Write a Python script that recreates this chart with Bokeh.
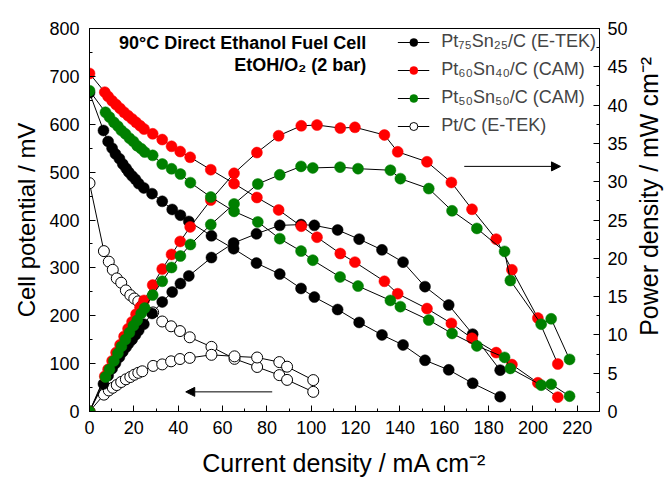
import math
from bokeh.plotting import figure
from bokeh.layouts import row
from bokeh.models import (Range1d, LinearAxis, Legend, LegendItem, Label, Arrow,
                          NormalHead, SingleIntervalTicker)
from bokeh.embed import file_html
from bokeh.resources import INLINE

# ---------------- data ----------------
# Pt75Sn25/C (E-TEK)  -- black
i_b = [0, 6.3, 8.4, 10.2, 11.7, 13.5, 15.0, 16.5, 17.7, 19.2, 20.7, 22.2, 24.5, 28.2, 32.8,
       37.3, 41.0, 44.8, 55.0, 65.0, 75.3, 85.8, 95.4, 101.4, 111.9, 121.6, 131.9, 141.4,
       151.3, 162.0, 172.8, 185.2]
v_b = [666, 587, 564, 550, 538, 528, 517, 508, 500, 492, 485, 476, 467, 455, 439, 422, 410,
       397, 367, 340, 310, 287, 257, 239, 213, 186, 160, 139, 107, 87, 59, 31]
p_b = [0, 3.6, 4.7, 5.6, 6.3, 7.1, 7.8, 8.4, 8.9, 9.4, 10.0, 10.6, 11.4, 12.8, 14.3, 15.6,
       16.7, 17.7, 20.1, 22.0, 23.2, 24.3, 24.4, 24.3, 23.7, 22.5, 21.1, 19.5, 16.3, 13.9,
       10.1, 5.4]

# Pt60Sn40/C (CAM)  -- red
i_r = [0, 6.9, 8.4, 10.2, 12.0, 13.8, 15.6, 17.4, 19.2, 21.0, 22.8, 24.6, 28.5, 32.8, 37.0,
       40.9, 45.4, 54.7, 65.2, 75.5, 85.3, 95.5, 102.6, 113.1, 119.7, 133.0, 139.0, 152.2,
       163.2, 172.5, 183.4, 190.5, 202.2, 211.2]
v_r = [706, 667, 658, 649, 641, 633, 625, 618, 611, 604, 597, 590, 580, 568, 554, 543, 531,
       505, 476, 447, 421, 387, 364, 330, 312, 272, 246, 215, 184, 153, 123, 98, 60, 30]
p_r = [0, 4.6, 5.5, 6.6, 7.7, 8.7, 9.8, 10.8, 11.7, 12.7, 13.6, 14.5, 16.5, 18.6, 20.5, 22.2,
       24.1, 27.6, 31.1, 33.8, 36.0, 37.3, 37.4, 37.0, 37.1, 36.1, 33.9, 32.6, 29.9, 26.4,
       22.5, 18.5, 12.2, 6.2]

# Pt50Sn50/C (CAM)  -- green
i_g = [0, 7.2, 9.0, 11.0, 12.8, 14.4, 16.2, 18.0, 19.8, 21.5, 23.3, 24.9, 28.5, 32.8, 37.0,
       41.0, 45.5, 54.7, 65.2, 75.9, 85.8, 95.4, 100.7, 113.0, 121.1, 135.7, 140.2, 153.0,
       163.5, 174.7, 187.2, 189.8, 203.7, 208.2, 216.5]
v_g = [670, 625, 615, 604, 596, 587, 580, 571, 564, 555, 549, 542, 535, 517, 507, 496, 478,
       448, 418, 396, 361, 335, 316, 281, 262, 232, 219, 191, 163, 137, 113, 90, 55, 57, 32]
p_g = [0, 4.5, 5.5, 6.6, 7.6, 8.5, 9.4, 10.3, 11.2, 11.9, 12.8, 13.5, 15.2, 17.0, 18.8, 20.3,
       21.8, 24.4, 27.1, 29.7, 30.9, 32.0, 31.8, 31.9, 31.7, 31.5, 30.4, 29.1, 26.2, 23.9,
       20.9, 17.1, 11.4, 12.1, 6.8]

# Pt/C (E-TEK)  -- open circles
i_c = [0, 6.5, 8.7, 10.5, 12.3, 14.3, 16.4, 18.4, 20.2, 22.0, 23.8, 28.7, 32.8, 36.8, 40.8,
       45.2, 55.0, 65.4, 75.6, 85.6, 89.1, 100.9]
v_c = [477, 335, 313, 296, 278, 269, 253, 243, 236, 230, 222, 207, 188, 178, 168, 155, 135,
       110, 93, 76, 66, 41]
p_c = [0, 2.2, 2.75, 3.1, 3.45, 3.85, 4.2, 4.5, 4.8, 5.05, 5.25, 5.95, 6.15, 6.55, 6.85,
       7.0, 7.4, 7.2, 7.05, 6.45, 5.85, 4.1]

labels = ["Pt\u2087\u2085Sn\u2082\u2085/C (E-TEK)", "Pt\u2086\u2080Sn\u2084\u2080/C (CAM)",
          "Pt\u2085\u2080Sn\u2085\u2080/C (CAM)", "Pt/C (E-TEK)"]

FONT = "Liberation Sans"

p = figure(frame_width=510, frame_height=383, output_backend="svg", toolbar_location=None,
           x_range=Range1d(0, 230), y_range=Range1d(0, 800),
           min_border_left=89, min_border_top=28, min_border_right=35, min_border_bottom=55)
p.extra_y_ranges = {"pw": Range1d(0, 50)}
p.xgrid.grid_line_color = None
p.ygrid.grid_line_color = None
p.outline_line_color = "black"
p.outline_line_alpha = 1
p.outline_line_width = 1
p.background_fill_color = "white"
p.border_fill_color = "white"

p.xaxis.ticker = SingleIntervalTicker(interval=20, num_minor_ticks=2)
p.yaxis.ticker = SingleIntervalTicker(interval=100, num_minor_ticks=2)
right = LinearAxis(y_range_name="pw", ticker=SingleIntervalTicker(interval=5, num_minor_ticks=2))
p.add_layout(right, "right")

p.xaxis.axis_label = "Current density / mA cm\u207b\u00b2"
p.yaxis[0].axis_label = "Cell potential / mV"

for ax in [p.xaxis[0], p.yaxis[0], right]:
    ax.major_tick_in = 6
    ax.major_tick_out = 0
    ax.minor_tick_in = 3
    ax.minor_tick_out = 0
    ax.axis_line_color = "black"
    ax.major_tick_line_color = "black"
    ax.minor_tick_line_color = "black"
    ax.major_label_text_font = FONT
    ax.major_label_text_font_size = "18px"
    ax.major_label_text_color = "black"
    ax.axis_label_text_font = FONT
    ax.axis_label_text_font_style = "normal"
    ax.axis_label_text_color = "black"
p.xaxis.axis_label_text_font_size = "25px"
p.yaxis[0].axis_label_text_font_size = "24px"
p.xaxis.major_label_standoff = 9
p.yaxis[0].major_label_standoff = 10
right.major_label_standoff = 8
p.xaxis.axis_label_standoff = 12
p.yaxis[0].axis_label_standoff = 6

series = [
    (i_b, v_b, p_b, "black", "black"),
    (i_r, v_r, p_r, "#ff0000", "#ff0000"),
    (i_g, v_g, p_g, "#008000", "#008000"),
]

items = []
# open circles first
lc1 = p.line(i_c, v_c, line_color="black", line_width=1)
sc1 = p.scatter(i_c, v_c, marker="circle", size=11, fill_color="white", line_color="black", line_width=1)
p.line(i_c, p_c, y_range_name="pw", line_color="black", line_width=1)
p.scatter(i_c, p_c, y_range_name="pw", marker="circle", size=11, fill_color="white",
          line_color="black", line_width=1)

for (ii, vv, pp, col, lcol), lab in zip(series, labels[:3]):
    l1 = p.line(ii, vv, line_color="black", line_width=1)
    s1 = p.scatter(ii, vv, marker="circle", size=11, fill_color=col, line_color=lcol, line_width=0.5)
    p.line(ii, pp, y_range_name="pw", line_color="black", line_width=1)
    p.scatter(ii, pp, y_range_name="pw", marker="circle", size=11, fill_color=col,
              line_color=lcol, line_width=0.5)
    items.append(LegendItem(label=lab, renderers=[l1, s1]))
items.append(LegendItem(label=labels[3], renderers=[lc1, sc1]))

legend = Legend(items=items, location="top_right", border_line_color=None,
                background_fill_alpha=0, label_text_font=FONT, label_text_font_size="18px",
                glyph_width=32, glyph_height=20, label_standoff=12, spacing=7,
                padding=2, margin=3, label_height=20)
p.add_layout(legend)

p.add_layout(Label(x=124.8, y=770, text="90\u00b0C Direct Ethanol Fuel Cell", text_align="right",
                   text_baseline="middle", text_font=FONT, text_font_style="bold",
                   text_font_size="18px", text_color="black"))
p.add_layout(Label(x=124.8, y=724, text="EtOH/O\u2082 (2 bar)", text_align="right",
                   text_baseline="middle", text_font=FONT, text_font_style="bold",
                   text_font_size="18px", text_color="black"))

p.add_layout(Arrow(end=NormalHead(size=9, fill_color="black", line_color="black"),
                   x_start=82.4, y_start=41, x_end=43.4, y_end=41, line_width=1))
p.add_layout(Arrow(end=NormalHead(size=9, fill_color="black", line_color="black"),
                   x_start=169, y_start=512, x_end=212.4, y_end=512, line_width=1))

# narrow strip holding the right-hand axis title, reading bottom-to-top
strip = figure(width=30, height=470, output_backend="svg", toolbar_location=None,
               x_range=Range1d(0, 30), y_range=Range1d(0, 470), min_border=0,
               x_axis_location=None, y_axis_location=None)
strip.grid.visible = False
strip.outline_line_color = None
strip.background_fill_color = "white"
strip.border_fill_color = "white"
strip.add_layout(Label(x=14, y=259, text="Power density / mW cm\u207b\u00b2", angle=math.pi / 2,
                       text_align="center", text_baseline="middle", text_font=FONT,
                       text_font_size="25px", text_color="black"))

layout = row(p, strip)
open("out.html", "w").write(file_html(layout, INLINE))
